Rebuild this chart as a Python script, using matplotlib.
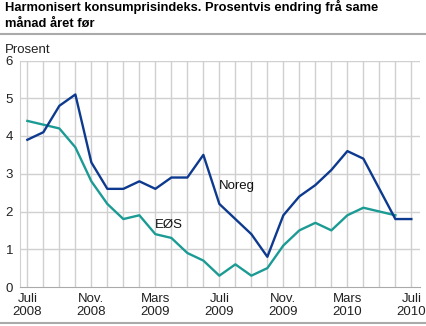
import matplotlib
matplotlib.use('Agg')
import matplotlib.pyplot as plt
from matplotlib.lines import Line2D

# monthly values, Juli 2008 - Juli 2010
noreg = [3.9, 4.1, 4.8, 5.1, 3.3, 2.6, 2.6, 2.8, 2.6, 2.9, 2.9, 3.5,
         2.2, 1.8, 1.4, 0.8, 1.9, 2.4, 2.7, 3.1, 3.6, 3.4, 2.6, 1.8, 1.8]
eos = [4.4, 4.3, 4.2, 3.7, 2.8, 2.2, 1.8, 1.9, 1.4, 1.3, 0.9, 0.7,
       0.3, 0.6, 0.3, 0.5, 1.1, 1.5, 1.7, 1.5, 1.9, 2.1, 2.0, 1.9]
tick_pos = [0, 4, 8, 12, 16, 20, 24]
tick_labels = ['Juli\n2008', 'Nov.\n2008', 'Mars\n2009', 'Juli\n2009',
               'Nov.\n2009', 'Mars\n2010', 'Juli\n2010']

plt.rcParams['font.family'] = ['Liberation Sans', 'DejaVu Sans']

fig = plt.figure(figsize=(4.26, 3.26), dpi=100)
ax = fig.add_axes([20/426, 1-287/326, 400/426, (287-60.5)/326])

grid_c = '#d0d0d0'
for m in range(25):
    ax.axvline(m, color=grid_c, lw=1, zorder=0)
for v in range(1, 7):
    ax.axhline(v, color=grid_c, lw=1, zorder=0)

ax.plot(range(len(eos)), eos, color='#1b9b94', lw=1.7, zorder=3)
ax.plot(range(len(noreg)), noreg, color='#0d3a8e', lw=1.7, zorder=4)

ax.set_xlim(-0.46, 24.54)
ax.set_ylim(0, 6)
ax.set_yticks(range(7))
ax.set_xticks(tick_pos)
ax.set_xticklabels(tick_labels, fontsize=9.5, linespacing=1.15)
ax.tick_params(axis='both', length=0, labelsize=9.5, colors='#222222')
ax.tick_params(axis='y', pad=5)
ax.tick_params(axis='x', pad=4)
for s in ['top', 'right']:
    ax.spines[s].set_visible(False)
ax.spines['left'].set_color(grid_c)
ax.spines['bottom'].set_color('#aaaaaa')

ax.text(11.95, 2.6, 'Noreg', fontsize=9.5, color='#111111', zorder=5)
ax.text(8.0, 1.55, 'EØS', fontsize=9.5, color='#111111', zorder=5)

fig.text(5/426, 1-11/326, 'Harmonisert konsumprisindeks. Prosentvis endring frå same',
         fontsize=9.3, fontweight='bold', va='baseline', ha='left')
fig.text(5/426, 1-27/326, 'månad året før', fontsize=9.3, fontweight='bold',
         va='baseline', ha='left')
fig.add_artist(Line2D([0, 1], [1-33.5/326, 1-33.5/326], color='#aaaaaa', lw=1.5))
fig.add_artist(Line2D([0, 1], [1-323.3/326, 1-323.3/326], color='#aaaaaa', lw=1.5))
fig.text(5/426, 1-53/326, 'Prosent', fontsize=9.5, va='baseline', ha='left', color='#222222')

fig.savefig('out.png', dpi=100)
